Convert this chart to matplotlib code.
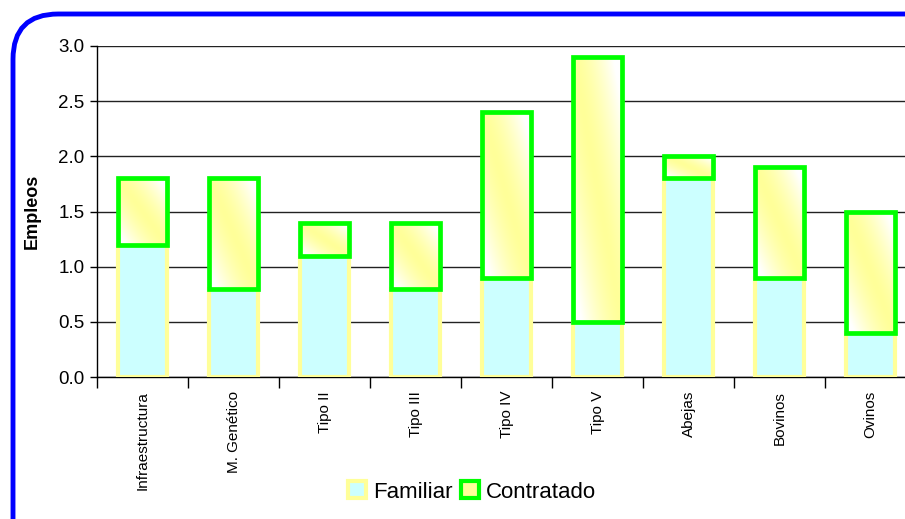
import matplotlib.pyplot as plt
import numpy as np
from matplotlib.patches import FancyBboxPatch, Patch

plt.rcParams['font.family'] = ['Liberation Sans', 'DejaVu Sans']

categorias = ["Infraestructura", "M. Genético", "Tipo II", "Tipo III", "Tipo IV",
              "Tipo V", "Abejas", "Bovinos", "Ovinos"]
familiar = [1.2, 0.8, 1.1, 0.8, 0.9, 0.5, 1.8, 0.9, 0.4]
contratado = [0.6, 1.0, 0.3, 0.6, 1.5, 2.4, 0.2, 1.0, 1.1]

fig = plt.figure(figsize=(9.05, 5.19), dpi=100)
ax = fig.add_axes([97 / 905, 1 - 377 / 519, 819 / 905, 331 / 519])

x = np.arange(len(categorias))
w = 0.53

ax.bar(x, familiar, w, color="#CCFFFF", edgecolor="#FFFF99", linewidth=3.0, zorder=3)
bars = ax.bar(x, contratado, w, bottom=familiar, facecolor="none",
              edgecolor="#00FF00", linewidth=3.4, zorder=5)

# diagonal white-yellow-white gradient inside each "Contratado" bar
n = 64
u, v = np.meshgrid(np.linspace(0, 1, n), np.linspace(1, 0, n))
d = np.clip(np.abs(u + v - 1) * 1.2, 0, 1) ** 1.5
yellow = np.array([1.0, 1.0, 0.6])
img = yellow + d[..., None] * (np.array([1.0, 1.0, 1.0]) - yellow)
for b in bars:
    x0, y0 = b.get_x(), b.get_y()
    im = ax.imshow(img, extent=[x0, x0 + b.get_width(), y0, y0 + b.get_height()],
                   aspect="auto", zorder=4, interpolation="bilinear")
    im.set_clip_path(b)

ax.set_xlim(-0.5, len(categorias) - 0.5)
ax.set_ylim(0, 3.0)
ax.set_yticks(np.arange(0, 3.01, 0.5))
ax.set_yticklabels([f"{t:.1f}" for t in np.arange(0, 3.01, 0.5)], fontsize=13.5)
ax.yaxis.grid(True, color="#222222", linewidth=1.0, zorder=0)
ax.set_axisbelow(True)

ax.set_xticks(np.arange(len(categorias) + 1) - 0.5)
ax.set_xticklabels([])
ax.set_xticks(x, minor=True)
ax.set_xticklabels(categorias, minor=True, rotation=90, fontsize=11)
ax.tick_params(axis="x", which="minor", length=0, pad=10)
ax.tick_params(axis="x", which="major", length=8, width=1)
ax.tick_params(axis="y", length=5, width=1, pad=4)

for s in ["top", "right"]:
    ax.spines[s].set_visible(False)
ax.spines["left"].set_linewidth(1)
ax.spines["bottom"].set_linewidth(1)

fig.text(32 / 905, 1 - 211 / 519, "Empleos", rotation=90, fontsize=13,
         fontweight="bold", ha="center", va="center")

handles = [Patch(facecolor="#CCFFFF", edgecolor="#FFFF99", linewidth=3.0),
           Patch(facecolor="#FFFF99", edgecolor="#00FF00", linewidth=3.0)]
fig.legend(handles, ["Familiar", "Contratado"], loc="center",
           bbox_to_anchor=(472 / 905, 1 - 492 / 519), ncol=2, frameon=False,
           fontsize=16, handlelength=0.8, handleheight=0.8, handletextpad=0.3,
           columnspacing=0.4)

border = FancyBboxPatch((13 / 905, -0.2), 1.1, 1.2 - 14 / 519,
                        boxstyle="round,pad=0,rounding_size=0.05",
                        transform=fig.transFigure, facecolor="none",
                        edgecolor="#0000FF", linewidth=3.5, zorder=10,
                        mutation_aspect=905 / 519)
fig.add_artist(border)

fig.savefig("out.png", dpi=100)
